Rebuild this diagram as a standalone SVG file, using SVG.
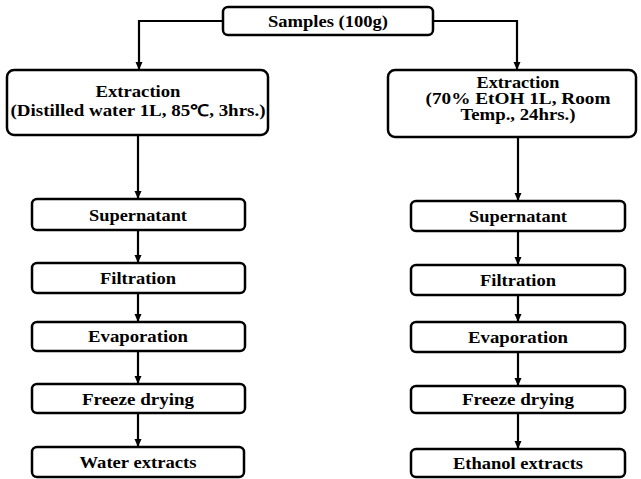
<svg xmlns="http://www.w3.org/2000/svg" width="641" height="479" viewBox="0 0 641 479">
<style>
.box{fill:#fff;stroke:#000;stroke-width:2.5}
.t{font-family:"Liberation Serif","Times New Roman",serif;font-weight:bold;font-size:16px;fill:#000;text-anchor:middle}
.c{fill:none;stroke:#000;stroke-width:2.2}
</style>
<defs>
<marker id="ah" markerWidth="8" markerHeight="8" refX="7" refY="4" orient="auto" markerUnits="userSpaceOnUse">
<path d="M0,0.5 L8,4 L0,7.5 Z" fill="#000"/>
</marker>
</defs>
<rect width="641" height="479" fill="#fff"/>
<g id="connectors">
<path class="c" d="M223,21 H139 V69" marker-end="url(#ah)"/>
<path class="c" d="M433,21 H517 V69" marker-end="url(#ah)"/>
<path class="c" d="M138,135 V198" marker-end="url(#ah)"/>
<path class="c" d="M138,230 V262" marker-end="url(#ah)"/>
<path class="c" d="M138,293 V321" marker-end="url(#ah)"/>
<path class="c" d="M138,351 V383" marker-end="url(#ah)"/>
<path class="c" d="M138,413 V446" marker-end="url(#ah)"/>
<path class="c" d="M518,137 V200" marker-end="url(#ah)"/>
<path class="c" d="M518,231 V264" marker-end="url(#ah)"/>
<path class="c" d="M518,295 V321" marker-end="url(#ah)"/>
<path class="c" d="M518,352 V385" marker-end="url(#ah)"/>
<path class="c" d="M518,413 V448" marker-end="url(#ah)"/>
</g>
<g id="samples">
<rect class="box" x="223" y="7" width="210" height="28" rx="5"/>
<text class="t" x="328" y="27" textLength="120" lengthAdjust="spacingAndGlyphs">Samples (100g)</text>
</g>
<g id="extraction-water">
<rect class="box" x="7" y="70" width="261" height="65" rx="7"/>
<text class="t" x="138" y="97" textLength="85" lengthAdjust="spacingAndGlyphs">Extraction</text>
<text class="t" x="138" y="116" textLength="255" lengthAdjust="spacingAndGlyphs">(Distilled water 1L, 85℃, 3hrs.)</text>
</g>
<g id="extraction-ethanol">
<rect class="box" x="388" y="70" width="248" height="67" rx="7"/>
<text class="t" x="518" y="88" textLength="83" lengthAdjust="spacingAndGlyphs">Extraction</text>
<text class="t" x="518" y="104" textLength="185" lengthAdjust="spacingAndGlyphs">(70% EtOH 1L, Room</text>
<text class="t" x="518" y="120" textLength="115" lengthAdjust="spacingAndGlyphs">Temp., 24hrs.)</text>
</g>
<g id="supernatant-w">
<rect class="box" x="32" y="199" width="213" height="31" rx="5"/>
<text class="t" x="138" y="221" textLength="98" lengthAdjust="spacingAndGlyphs">Supernatant</text>
</g>
<g id="filtration-w">
<rect class="box" x="32" y="263" width="213" height="30" rx="5"/>
<text class="t" x="138" y="284" textLength="76" lengthAdjust="spacingAndGlyphs">Filtration</text>
</g>
<g id="evaporation-w">
<rect class="box" x="32" y="322" width="213" height="29" rx="5"/>
<text class="t" x="138" y="342" textLength="100" lengthAdjust="spacingAndGlyphs">Evaporation</text>
</g>
<g id="freeze-w">
<rect class="box" x="32" y="384" width="213" height="29" rx="5"/>
<text class="t" x="138" y="405" textLength="112" lengthAdjust="spacingAndGlyphs">Freeze drying</text>
</g>
<g id="water-extracts">
<rect class="box" x="32" y="447" width="212" height="30" rx="5"/>
<text class="t" x="138" y="468" textLength="117" lengthAdjust="spacingAndGlyphs">Water extracts</text>
</g>
<g id="supernatant-e">
<rect class="box" x="411" y="201" width="214" height="30" rx="5"/>
<text class="t" x="518" y="222" textLength="98" lengthAdjust="spacingAndGlyphs">Supernatant</text>
</g>
<g id="filtration-e">
<rect class="box" x="411" y="265" width="214" height="30" rx="5"/>
<text class="t" x="518" y="286" textLength="76" lengthAdjust="spacingAndGlyphs">Filtration</text>
</g>
<g id="evaporation-e">
<rect class="box" x="411" y="322" width="214" height="30" rx="5"/>
<text class="t" x="518" y="343" textLength="100" lengthAdjust="spacingAndGlyphs">Evaporation</text>
</g>
<g id="freeze-e">
<rect class="box" x="411" y="386" width="214" height="27" rx="5"/>
<text class="t" x="518" y="405" textLength="112" lengthAdjust="spacingAndGlyphs">Freeze drying</text>
</g>
<g id="ethanol-extracts">
<rect class="box" x="411" y="449" width="214" height="28" rx="5"/>
<text class="t" x="518" y="469" textLength="130" lengthAdjust="spacingAndGlyphs">Ethanol extracts</text>
</g>
</svg>
